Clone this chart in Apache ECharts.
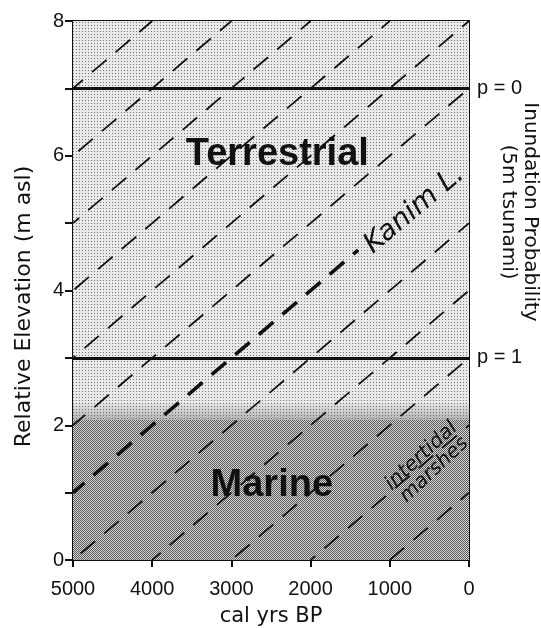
<!DOCTYPE html>
<html>
<head>
<meta charset="utf-8">
<script src="https://cdn.jsdelivr.net/npm/echarts@6/dist/echarts.min.js"></script>
<style>
html,body{margin:0;padding:0;background:#fff;}
#chart{width:541px;height:628px;}
</style>
</head>
<body>
<div id="chart"></div>
<script>
// ---- data ----
const xTickValues = [5000, 4000, 3000, 2000, 1000, 0];
const yTickLabels = ['0', '', '2', '', '4', '', '6', '', '8'];
const thresholdElev = [7, 3];
const thresholdLabels = ['p = 0', 'p = 1'];
const marineTop = 2;
// background dashed diagonals (cal yrs BP, m asl)
const diagStartYear = [1000, 2000, 3000, 4000, 5000, 5000, 5000, 5000, 5000, 5000, 5000];
const diagStartElev = [0, 0, 0, 0, 0, 2, 3, 4, 5, 6, 7];
const diagEndYear   = [0, 0, 0, 0, 0, 0, 0, 1000, 2000, 3000, 4000];
const diagEndElev   = [1, 2, 3, 4, 5, 7, 8, 8, 8, 8, 8];
// Kanim Lake trend line
const kanimYear = [5000, 1400];
const kanimElev = [1.0, 4.6];
const zoneNames = ['Terrestrial', 'Marine'];
const kanimName = 'Kanim L.';
const marshName = 'intertidal\nmarshes';

const FONT = '"Liberation Sans", Arial, Helvetica, sans-serif';
const WFONT = '"DejaVu Sans", "Liberation Sans", sans-serif';

function makePattern(size, bg, dots) {
  const c = document.createElement('canvas');
  c.width = size; c.height = size;
  const g = c.getContext('2d');
  g.fillStyle = bg; g.fillRect(0, 0, size, size);
  dots.forEach(d => { g.fillStyle = d[2]; g.fillRect(d[0], d[1], 1, 1); });
  return c;
}
const lightPat = makePattern(3, '#e9e9e9', [[1, 1, '#747474']]);
const darkPat = makePattern(2, '#d6d6d6', [[0, 0, '#595959'], [1, 1, '#595959']]);

const chart = echarts.init(document.getElementById('chart'), null, {renderer: 'canvas'});

const noBorder = {textBorderWidth: 0, textShadowBlur: 0, textBorderColor: 'transparent'};
const solidItem = {opacity: 1, color: 'transparent'};

const series = [];
// background zones
series.push({
  type: 'line', data: [], symbol: 'none', silent: true, z: 1, animation: false,
  markArea: {
    silent: true,
    label: {show: false},
    data: [
      [{xAxis: 5000, yAxis: marineTop, itemStyle: {color: {image: lightPat, repeat: 'repeat'}}}, {xAxis: 0, yAxis: 8}],
      [{xAxis: 5000, yAxis: 0, itemStyle: {color: {image: darkPat, repeat: 'repeat'}}}, {xAxis: 0, yAxis: marineTop + 0.08}],
      [{xAxis: 5000, yAxis: marineTop + 0.08, itemStyle: {color: new echarts.graphic.LinearGradient(0, 0, 0, 1, [
        {offset: 0, color: 'rgba(110,110,110,0)'}, {offset: 1, color: 'rgba(110,110,110,0.45)'}])}},
       {xAxis: 0, yAxis: marineTop + 0.35}]
    ]
  }
});
// diagonals
for (let i = 0; i < diagStartYear.length; i++) {
  series.push({
    type: 'line', symbol: 'none', silent: true, z: 3, animation: false,
    data: [[diagStartYear[i], diagStartElev[i]], [diagEndYear[i], diagEndElev[i]]],
    lineStyle: {color: '#111', width: 1.8, type: [19, 12], dashOffset: (i * 13) % 31}
  });
}
// Kanim trend
series.push({
  type: 'line', symbol: 'none', silent: true, z: 3, animation: false,
  data: [[kanimYear[0], kanimElev[0]], [kanimYear[1], kanimElev[1]]],
  lineStyle: {color: '#111', width: 3.6, type: [19, 12], dashOffset: 4}
});
// threshold lines
series.push({
  type: 'line', data: [], symbol: 'none', silent: true, z: 4, animation: false,
  markLine: {
    silent: true, symbol: 'none', animation: false,
    label: {show: false},
    lineStyle: {color: '#111', width: 3, type: 'solid'},
    data: thresholdElev.map(v => ({yAxis: v}))
  }
});
// text annotations
series.push({
  type: 'scatter', symbolSize: 0, silent: true, z: 5, animation: false, itemStyle: solidItem,
  data: [
    {value: [2420, 6.02], label: {formatter: zoneNames[0]}},
    {value: [2490, 1.10], label: {formatter: zoneNames[1]}}
  ],
  label: Object.assign({show: true, position: 'inside', color: '#111', fontFamily: FONT, fontWeight: 'bold', fontSize: 38}, noBorder)
});
series.push({
  type: 'scatter', symbolSize: 0, silent: true, z: 5, animation: false, itemStyle: solidItem,
  data: [{value: [690, 5.2]}],
  label: Object.assign({show: true, position: 'inside', formatter: kanimName, rotate: 40, color: '#111', fontFamily: WFONT, fontStyle: 'italic', fontSize: 28}, noBorder)
});
series.push({
  type: 'scatter', symbolSize: 0, silent: true, z: 5, animation: false, itemStyle: solidItem,
  data: [{value: [520, 1.44]}],
  label: Object.assign({show: true, position: 'inside', formatter: marshName, rotate: 43, color: '#111', fontFamily: WFONT, fontStyle: 'italic', fontSize: 20, lineHeight: 19, align: 'center'}, noBorder)
});

const option = {
  animation: false,
  backgroundColor: '#fff',
  grid: {left: 73, right: 72, top: 21, bottom: 68, show: true, borderColor: '#111', borderWidth: 2,
    backgroundColor: 'transparent', containLabel: false, outerBoundsMode: 'none'},
  xAxis: {
    type: 'value', inverse: true, min: 0, max: 5000, interval: 1000,
    axisLine: {show: true, onZero: false, lineStyle: {color: '#111', width: 2}},
    axisTick: {show: true, length: 7, lineStyle: {color: '#111', width: 2}},
    axisLabel: {color: '#111', fontSize: 20, fontFamily: FONT, margin: 19,
      formatter: v => (xTickValues.indexOf(v) >= 0 ? String(v) : '')},
    splitLine: {show: false},
    name: 'cal yrs BP', nameLocation: 'middle', nameGap: 46,
    nameTextStyle: {color: '#111', fontSize: 21, fontFamily: WFONT}
  },
  yAxis: [{
    type: 'value', min: 0, max: 8, interval: 1, position: 'left',
    axisLine: {show: true, onZero: false, lineStyle: {color: '#111', width: 2}},
    axisTick: {show: true, length: 8, lineStyle: {color: '#111', width: 2}},
    axisLabel: {color: '#111', fontSize: 20, fontFamily: FONT, margin: 9,
      formatter: v => yTickLabels[Math.round(v)] || ''},
    splitLine: {show: false},
    name: 'Relative Elevation (m asl)', nameLocation: 'middle', nameGap: 38,
    nameTextStyle: {color: '#111', fontSize: 22, fontFamily: WFONT, padding: [0, 32, 0, 0]}
  }, {
    type: 'value', min: 0, max: 8, interval: 1, position: 'right',
    axisLine: {show: true, onZero: false, lineStyle: {color: '#111', width: 2}},
    axisTick: {show: false},
    axisLabel: {color: '#111', fontSize: 20, fontFamily: FONT, margin: 8,
      formatter: v => { const i = thresholdElev.indexOf(v); return i >= 0 ? thresholdLabels[i] : ''; }},
    splitLine: {show: false}
  }],
  graphic: [{
    type: 'text', x: 519, y: 212, rotation: -Math.PI / 2, silent: true,
    style: {text: 'Inundation Probability\n(5m tsunami)', align: 'center', verticalAlign: 'middle',
      fontSize: 20, lineHeight: 22, fontFamily: WFONT, fill: '#111'}
  }],
  series: series
};
chart.setOption(option);
</script>
</body>
</html>
